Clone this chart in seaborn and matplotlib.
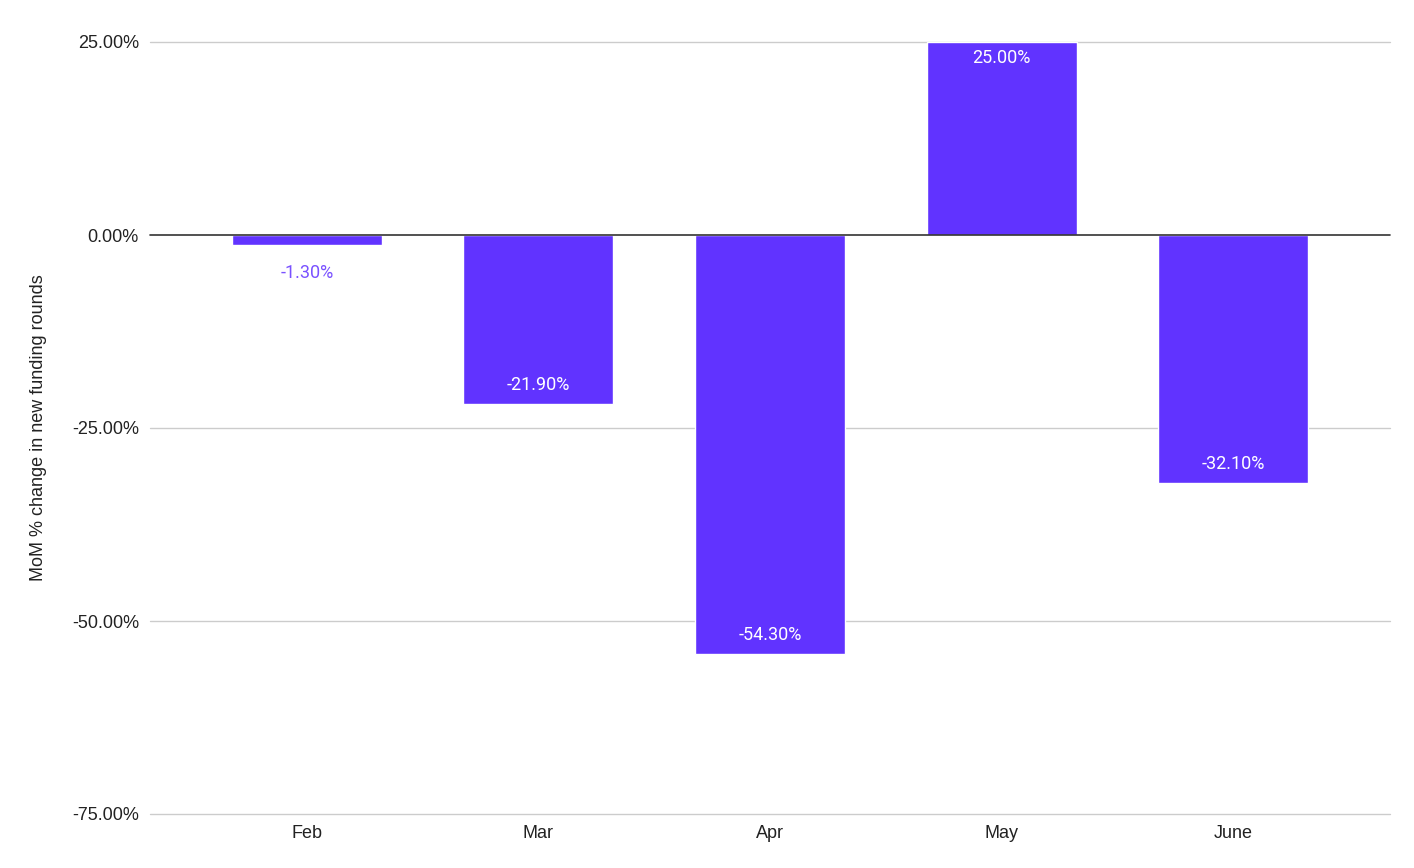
import matplotlib
matplotlib.use("Agg")
import matplotlib.pyplot as plt
import seaborn as sns
import pandas as pd
from matplotlib.ticker import FuncFormatter

months = ["Feb", "Mar", "Apr", "May", "June"]
changes = [-1.3, -21.9, -54.3, 25.0, -32.1]
yticks = [-75, -50, -25, 0, 25]

df = pd.DataFrame({"month": months, "change": changes})

sns.set_theme(style="white")
plt.rcParams["font.family"] = ["Liberation Sans", "DejaVu Sans"]

fig = plt.figure(figsize=(14.14, 8.68), dpi=100)
ax = fig.add_axes([150 / 1414, 1 - 814 / 868, 1240 / 1414, 772 / 868])

color = "#6133FF"
sns.barplot(data=df, x="month", y="change", color=color, saturation=1,
            width=0.648, ax=ax, zorder=3)

ax.set_ylim(-75, 25)
ax.set_xlim(-0.678, 4.678)
ax.set_yticks(yticks)
ax.yaxis.set_major_formatter(FuncFormatter(lambda v, p: f"{v:.2f}%"))
for y in yticks:
    if y == 0:
        ax.axhline(y, color="#333333", lw=1.2, zorder=4, clip_on=False)
    else:
        ax.axhline(y, color="#cccccc", lw=1, zorder=1, clip_on=False)
for s in ax.spines.values():
    s.set_visible(False)
ax.tick_params(axis="both", length=0, labelsize=13, colors="#222222")
ax.tick_params(axis="y", pad=8)
ax.tick_params(axis="x", pad=8)
ax.set_xlabel("")
ax.set_ylabel("MoM % change in new funding rounds", fontsize=13, color="#222222", labelpad=18)

for p, v in zip(ax.patches, changes):
    x = p.get_x() + p.get_width() / 2
    txt = f"{v:.2f}%"
    if abs(v) < 5:
        ax.annotate(txt, (x, v), xytext=(0, -28), textcoords="offset pixels",
                    ha="center", va="center", color="#7a52ff", fontsize=13,
                    family="Roboto", zorder=5)
    else:
        off = -16 if v > 0 else 19
        ax.annotate(txt, (x, v), xytext=(0, off), textcoords="offset pixels",
                    ha="center", va="center", color="white", fontsize=13,
                    family="Roboto", zorder=5)

fig.savefig("out.png", dpi=100)
